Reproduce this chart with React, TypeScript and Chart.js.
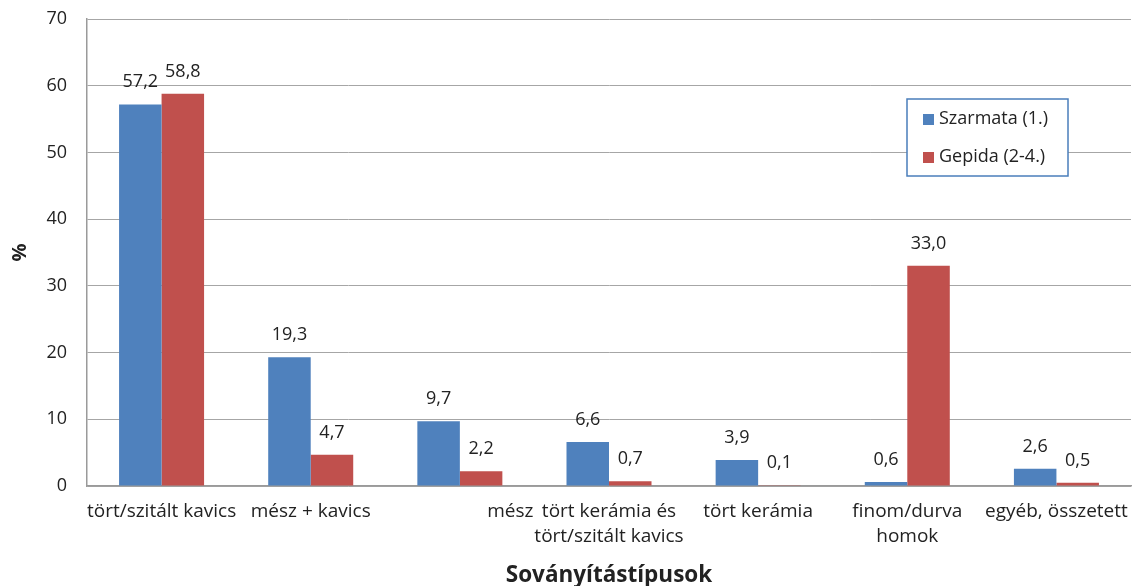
import React, { useEffect, useRef } from "react";
import { Chart, registerables } from "chart.js";

Chart.register(...registerables);

const categories: (string | string[])[] = [
  "tört/szitált kavics",
  "mész + kavics",
  "mész",
  ["tört kerámia és", "tört/szitált kavics"],
  "tört kerámia",
  ["finom/durva", "homok"],
  "egyéb, összetett",
];
const szarmata = [57.2, 19.3, 9.7, 6.6, 3.9, 0.6, 2.6];
const gepida = [58.8, 4.7, 2.2, 0.7, 0.1, 33.0, 0.5];
const seriesNames = ["Szarmata (1.)", "Gepida (2-4.)"];
const yTicks = [0, 10, 20, 30, 40, 50, 60, 70];

const FONT = "'Open Sans'";
const TEXT = "#222222";
const BLUE = "#4F81BD";
const RED = "#C0504D";
// Excel wrapped the third label against the right edge of its slot
const xLabelAlign = ["center", "center", "right", "center", "center", "center", "center"];

const valueLabels = {
  id: "valueLabels",
  afterDatasetsDraw(chart: any) {
    const ctx = chart.ctx;
    ctx.save();
    ctx.font = `18px ${FONT}`;
    ctx.fillStyle = TEXT;
    ctx.textAlign = "center";
    ctx.textBaseline = "alphabetic";
    chart.data.datasets.forEach((ds: any, i: number) => {
      const meta = chart.getDatasetMeta(i);
      meta.data.forEach((bar: any, j: number) => {
        const v = ds.data[j] as number;
        ctx.fillText(v.toFixed(1).replace(".", ","), bar.x, bar.y - 17);
      });
    });
    ctx.restore();
  },
};

const xLabels = {
  id: "xLabels",
  afterDraw(chart: any) {
    const ctx = chart.ctx;
    const xs = chart.scales.x;
    const labels = chart.data.labels as (string | string[])[];
    const slot = (xs.right - xs.left) / labels.length;
    ctx.save();
    ctx.font = `19px ${FONT}`;
    ctx.fillStyle = TEXT;
    ctx.textBaseline = "middle";
    labels.forEach((lab, i) => {
      const lines = Array.isArray(lab) ? lab : [lab];
      const cx = xs.getPixelForTick(i);
      const align = xLabelAlign[i];
      ctx.textAlign = align === "right" ? "right" : "center";
      const x = align === "right" ? cx + slot / 2 - 1 : cx;
      lines.forEach((ln, k) => {
        ctx.fillText(ln, x, xs.top + 26 + k * 25);
      });
    });
    ctx.font = `bold 22.5px ${FONT}`;
    ctx.textAlign = "center";
    ctx.fillText("Soványítástípusok", (xs.left + xs.right) / 2, xs.top + 90);
    ctx.restore();
  },
};

const boxLegend = {
  id: "boxLegend",
  afterDraw(chart: any) {
    const ctx = chart.ctx;
    const x = 907, y = 99, w = 161, h = 77;
    ctx.save();
    ctx.fillStyle = "#ffffff";
    ctx.fillRect(x, y, w, h);
    ctx.strokeStyle = "#4A7EBB";
    ctx.lineWidth = 1.5;
    ctx.strokeRect(x, y, w, h);
    ctx.font = `18px ${FONT}`;
    ctx.textBaseline = "middle";
    ctx.textAlign = "left";
    chart.data.datasets.forEach((ds: any, i: number) => {
      const cy = y + 20 + i * 38;
      ctx.fillStyle = ds.backgroundColor;
      ctx.fillRect(x + 16, cy - 5, 11, 11);
      ctx.fillStyle = TEXT;
      ctx.fillText(ds.label, x + 32, cy);
    });
    ctx.restore();
  },
};

export default function App() {
  const ref = useRef<HTMLCanvasElement>(null);
  useEffect(() => {
    if (!ref.current) return;
    const chart = new Chart(ref.current, {
      type: "bar",
      data: {
        labels: categories,
        datasets: [
          { label: seriesNames[0], data: szarmata, backgroundColor: BLUE, categoryPercentage: 0.57, barPercentage: 1 },
          { label: seriesNames[1], data: gepida, backgroundColor: RED, categoryPercentage: 0.57, barPercentage: 1 },
        ],
      },
      options: {
        responsive: false,
        animation: false,
        layout: { padding: { top: 19, right: 3, left: 0, bottom: 0 } },
        plugins: { legend: { display: false }, tooltip: { enabled: false } },
        scales: {
          x: {
            grid: { display: false, drawTicks: false },
            border: { color: "#9a9a9a", width: 1.5 },
            ticks: { display: false },
            title: { display: false },
            afterFit: (s: any) => { s.height = 100; },
          },
          y: {
            min: 0,
            max: 70,
            afterBuildTicks: (s: any) => { s.ticks = yTicks.map((v) => ({ value: v })); },
            grid: { color: "#a6a6a6", lineWidth: 1, drawTicks: true, tickLength: 20, tickColor: "rgba(0,0,0,0)" },
            border: { color: "#9a9a9a", width: 1.5 },
            ticks: { color: TEXT, font: { family: FONT, size: 18 }, padding: 0 },
            title: {
              display: true,
              text: "%",
              color: TEXT,
              font: { family: FONT, size: 20, weight: "bold" },
              padding: { top: 8, bottom: 0 },
            },
            afterFit: (s: any) => { s.width = 87; },
          },
        },
      },
      plugins: [valueLabels, xLabels, boxLegend],
    });
    return () => chart.destroy();
  }, []);
  return (
    <div style={{ position: "fixed", left: 0, top: 0, width: 1134, height: 586, background: "#fff" }}>
      <canvas ref={ref} width={1134} height={586} />
    </div>
  );
}
